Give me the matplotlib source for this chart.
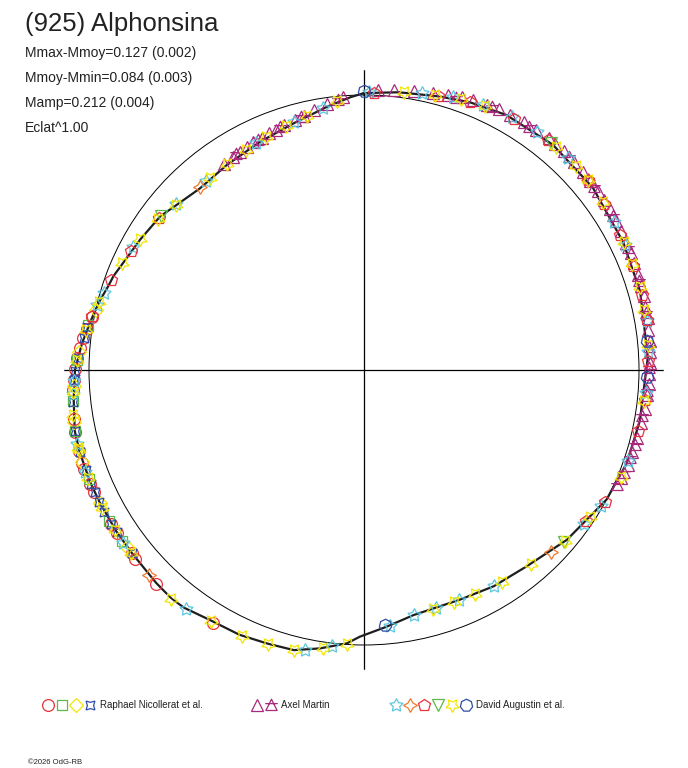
import numpy as np
import matplotlib
matplotlib.use("Agg")
import matplotlib.pyplot as plt
from matplotlib.path import Path

plt.rcParams['font.family'] = ['Liberation Sans', 'DejaVu Sans']

# lightcurve (phase 0..1, flux relative to mean)
curve_phase = [0.000, 0.020, 0.043, 0.060, 0.081, 0.111, 0.143, 0.177, 0.206, 0.243,
               0.279, 0.304, 0.328, 0.344, 0.361, 0.390, 0.414, 0.437, 0.468, 0.486,
               0.5025, 0.510, 0.525, 0.539, 0.554, 0.570, 0.588, 0.603, 0.611, 0.623,
               0.643, 0.658, 0.676, 0.688, 0.705, 0.717, 0.734, 0.750, 0.765, 0.778,
               0.783, 0.791, 0.801, 0.807, 0.834, 0.853, 0.865, 0.883, 0.906, 0.932,
               0.956, 0.978, 0.992]
curve_flux = [1.007, 1.018, 1.032, 1.047, 1.062, 1.069, 1.064, 1.051, 1.044, 1.033,
              1.020, 1.014, 1.000, 0.976, 0.962, 0.927, 0.917, 0.905, 0.909, 0.937,
              0.970, 0.996, 1.025, 1.050, 1.055, 1.064, 1.068, 1.084, 1.087, 1.082,
              1.075, 1.075, 1.075, 1.076, 1.076, 1.075, 1.061, 1.051, 1.030, 1.010,
              1.003, 0.993, 0.978, 0.973, 0.942, 0.928, 0.908, 0.890, 0.897, 0.912,
              0.933, 0.967, 0.993]

# Raphael Nicollerat et al.
rn_circle_ph = [0.7806, 0.7736, 0.768, 0.7622, 0.7567, 0.7505, 0.7445, 0.739, 0.7233, 0.7164,
                0.7061, 0.6994, 0.6958, 0.6872, 0.6825, 0.6631, 0.657, 0.6436, 0.640, 0.6225, 0.5858]
rn_circle_fl = [1.006, 1.020, 1.028, 1.036, 1.044, 1.050, 1.056, 1.060, 1.070, 1.076,
                1.077, 1.079, 1.080, 1.078, 1.079, 1.078, 1.077, 1.076, 1.080, 1.085, 1.070]
rn_square_ph = [0.776, 0.7558, 0.733, 0.7168, 0.690, 0.665, 0.652]
rn_square_fl = [1.016, 1.045, 1.064, 1.075, 1.076, 1.076, 1.077]
rn_diamond_ph = [0.785, 0.760, 0.741, 0.722, 0.700, 0.676, 0.648]
rn_diamond_fl = [1.000, 1.040, 1.058, 1.072, 1.077, 1.076, 1.076]
rn_astroid_ph = [0.7747, 0.768, 0.7567, 0.7495, 0.7445, 0.7328, 0.7167, 0.7053, 0.695, 0.6872,
                 0.6825, 0.6764, 0.6703, 0.6631, 0.6575, 0.6436]
rn_astroid_fl = [1.018, 1.026, 1.042, 1.051, 1.055, 1.064, 1.073, 1.075, 1.076, 1.076,
                 1.075, 1.075, 1.076, 1.075, 1.075, 1.074]

# Axel Martin
am_tri_ph = [0.905, 0.912, 0.918, 0.923, 0.928, 0.934, 0.939, 0.944, 0.950, 0.957,
             0.963, 0.970, 0.978, 0.988, 0.008, 0.017, 0.028, 0.039, 0.047, 0.055,
             0.061, 0.069, 0.076, 0.083, 0.091, 0.099, 0.107, 0.112, 0.118, 0.126,
             0.133, 0.139, 0.146, 0.152, 0.158, 0.165, 0.171, 0.178, 0.184, 0.190,
             0.197, 0.203, 0.209, 0.215, 0.221, 0.228, 0.234, 0.240, 0.246, 0.252,
             0.258, 0.264, 0.272, 0.280, 0.289, 0.297, 0.305, 0.313]
am_tri_fl = [0.905, 0.910, 0.913, 0.917, 0.920, 0.923, 0.928, 0.931, 0.937, 0.944,
             0.951, 0.962, 0.975, 0.994, 1.020, 1.025, 1.031, 1.037, 1.045, 1.055,
             1.057, 1.063, 1.070, 1.069, 1.074, 1.075, 1.078, 1.076, 1.079, 1.075,
             1.076, 1.072, 1.073, 1.068, 1.069, 1.063, 1.064, 1.058, 1.060, 1.055,
             1.056, 1.051, 1.053, 1.048, 1.049, 1.044, 1.046, 1.041, 1.042, 1.036,
             1.038, 1.032, 1.031, 1.026, 1.025, 1.020, 1.021, 1.014]
am_alt_ph = [0.915, 0.931, 0.947, 0.961, 0.985, 0.052, 0.072, 0.095, 0.122, 0.143,
             0.162, 0.181, 0.200, 0.218, 0.237, 0.249, 0.262, 0.276, 0.293, 0.301,
             0.310, 0.318]
am_alt_fl = [0.912, 0.921, 0.935, 0.950, 0.988, 1.044, 1.062, 1.070, 1.073, 1.070,
             1.063, 1.056, 1.050, 1.046, 1.040, 1.036, 1.031, 1.026, 1.021, 1.018,
             1.015, 1.010]

# David Augustin et al.
da_star_ph = [0.796, 0.828, 0.865, 0.889, 0.9295, 0.956, 0.975, 0.003, 0.033, 0.050,
              0.067, 0.084, 0.100, 0.122, 0.165, 0.179, 0.2225, 0.240, 0.263, 0.3025,
              0.333, 0.347, 0.414, 0.438, 0.453, 0.468, 0.484, 0.5186, 0.5328, 0.6017,
              0.651, 0.694, 0.7097, 0.737, 0.744, 0.788]
da_star_fl = [0.988, 0.952, 0.913, 0.897, 0.915, 0.937, 0.964, 1.012, 1.028, 1.042,
              1.055, 1.066, 1.072, 1.070, 1.058, 1.053, 1.043, 1.036, 1.030, 1.016,
              0.995, 0.976, 0.918, 0.906, 0.903, 0.910, 0.935, 1.010, 1.040, 1.083,
              1.078, 1.079, 1.077, 1.060, 1.055, 0.998]
da_four_ph = [0.8839, 0.138, 0.373, 0.6289]
da_four_fl = [0.895, 1.066, 0.948, 1.080]
da_pent_ph = [0.781, 0.8044, 0.825, 0.8517, 0.0055, 0.042, 0.060, 0.0856, 0.1075, 0.138,
              0.1539, 0.1728, 0.1914, 0.208, 0.222, 0.245, 0.267, 0.285, 0.330, 0.3453]
da_pent_fl = [1.008, 0.977, 0.952, 0.928, 1.008, 1.033, 1.048, 1.064, 1.070, 1.067,
              1.062, 1.054, 1.048, 1.047, 1.044, 1.033, 1.026, 1.020, 0.998, 0.976]
da_vtri_ph = [0.8533, 0.1094, 0.363]
da_vtri_fl = [0.926, 1.070, 0.958]
da_ystar_ph = [0.790, 0.8164, 0.834, 0.851, 0.865, 0.8925, 0.907, 0.9214, 0.9367, 0.951,
               0.965, 0.984, 0.023, 0.040, 0.055, 0.0686, 0.1133, 0.128, 0.138, 0.1525,
               0.177, 0.190, 0.2036, 0.2167, 0.236, 0.2678, 0.313, 0.3417, 0.362, 0.387,
               0.408, 0.4267, 0.4408, 0.455, 0.5101, 0.5233, 0.5392, 0.5536, 0.5683, 0.5872,
               0.6114, 0.644, 0.6592, 0.6728, 0.6908, 0.7064, 0.7078, 0.7256, 0.7378, 0.7556,
               0.7725]
da_ystar_fl = [0.995, 0.963, 0.944, 0.928, 0.910, 0.893, 0.900, 0.908, 0.918, 0.930,
               0.948, 0.982, 1.020, 1.031, 1.046, 1.056, 1.071, 1.068, 1.066, 1.062,
               1.053, 1.048, 1.046, 1.042, 1.036, 1.026, 1.012, 0.982, 0.960, 0.930,
               0.920, 0.911, 0.905, 0.905, 0.998, 1.022, 1.050, 1.056, 1.062, 1.069,
               1.088, 1.078, 1.077, 1.078, 1.078, 1.076, 1.078, 1.070, 1.062, 1.045,
               1.020]
da_hept_ph = [0.000, 0.487, 0.234, 0.254]
da_hept_fl = [1.016, 0.930, 1.036, 1.031]

title = "(925) Alphonsina"
stats = ["Mmax-Mmoy=0.127 (0.002)", "Mmoy-Mmin=0.084 (0.003)", "Mamp=0.212 (0.004)", "Eclat^1.00"]
observers = ["Raphael Nicollerat et al.", "Axel Martin", "David Augustin et al."]

RED = '#e8333b'
GREEN = '#5cb848'
YELLOW = '#f2e600'
BLUE = '#2e4ea6'
PURPLE = '#a8297c'
CYAN = '#5bc6de'
ORANGE = '#f07a2e'

# odd Axel Martin symbol: triangle with a bar
alt_marker = Path([(0, 1), (-0.9, -0.8), (0.9, -0.8), (0, 1), (-1, 0.3), (1, 0.3)],
                  [Path.MOVETO, Path.LINETO, Path.LINETO, Path.CLOSEPOLY, Path.MOVETO, Path.LINETO])

series = [
    (rn_circle_ph, rn_circle_fl, 'o', RED, 8.5),
    (rn_square_ph, rn_square_fl, 's', GREEN, 7.5),
    (rn_diamond_ph, rn_diamond_fl, 'D', YELLOW, 7),
    (rn_astroid_ph, rn_astroid_fl, (4, 1, 45), BLUE, 9),
    (am_tri_ph, am_tri_fl, '^', PURPLE, 9),
    (am_alt_ph, am_alt_fl, alt_marker, PURPLE, 9),
    (da_star_ph, da_star_fl, (5, 1, 0), CYAN, 10),
    (da_four_ph, da_four_fl, (4, 1, 0), ORANGE, 10),
    (da_pent_ph, da_pent_fl, 'p', RED, 9),
    (da_vtri_ph, da_vtri_fl, 'v', GREEN, 9),
    (da_ystar_ph, da_ystar_fl, (5, 1, 36), YELLOW, 10),
    (da_hept_ph, da_hept_fl, (7, 0, 0), BLUE, 9),
]
legend_groups = [(0, 4, 48), (4, 6, 257), (6, 12, 396)]

W, H = 688, 768
cx, cy, rpx, rmax = 364, 370, 275, 1.09

fig = plt.figure(figsize=(W / 100, H / 100), dpi=100)
R = rmax * rpx
ax = fig.add_axes([(cx - R) / W, (H - cy - R) / H, 2 * R / W, 2 * R / H], projection='polar')
ax.set_theta_zero_location('N')
ax.set_theta_direction(-1)
ax.set_ylim(0, rmax)
ax.set_rgrids([1.0], labels=[''])
ax.set_thetagrids([0, 90, 180, 270], labels=[''] * 4)
ax.yaxis.grid(True, color='black', lw=0.7, ls='-')
ax.xaxis.grid(True, color='black', lw=0.9, ls='-')
ax.spines['polar'].set_visible(False)
ax.tick_params(length=0)
ax.set_facecolor('white')

th = 2 * np.pi * np.array(curve_phase + curve_phase[:1])
ax.plot(th, curve_flux + curve_flux[:1], color='#1e1e1e', lw=1.6, zorder=3)

for ph, fl, mk, col, ms in series:
    ax.plot(2 * np.pi * np.array(ph), fl, ls='none', marker=mk, ms=ms, mfc='none',
            mec=col, mew=0.9, zorder=4, clip_on=False)

fig.text(25 / W, 1 - 31 / H, title, fontsize=18.5, color='#222222', va='baseline')
for i, s in enumerate(stats):
    fig.text(25 / W, 1 - (57 + 25 * i) / H, s, fontsize=10, color='#222222', va='baseline')

# legend row
lax = fig.add_axes([0, 0, 1, 1])
lax.set_xlim(0, W)
lax.set_ylim(H, 0)
lax.axis('off')
for (a, b, x0), name in zip(legend_groups, observers):
    for k in range(a, b):
        lax.plot(x0 + 14 * (k - a), 705, ls='none', marker=series[k][2], ms=series[k][4],
                 mfc='none', mec=series[k][3], mew=0.9)
    lax.text(x0 + 14 * (b - a) - 4, 705.5, name, fontsize=7, color='#222222', va='center')
lax.text(28, 763, "\u00a92026 OdG-RB", fontsize=5.5, color='#222222', va='center')

fig.savefig("out.png", dpi=100)
